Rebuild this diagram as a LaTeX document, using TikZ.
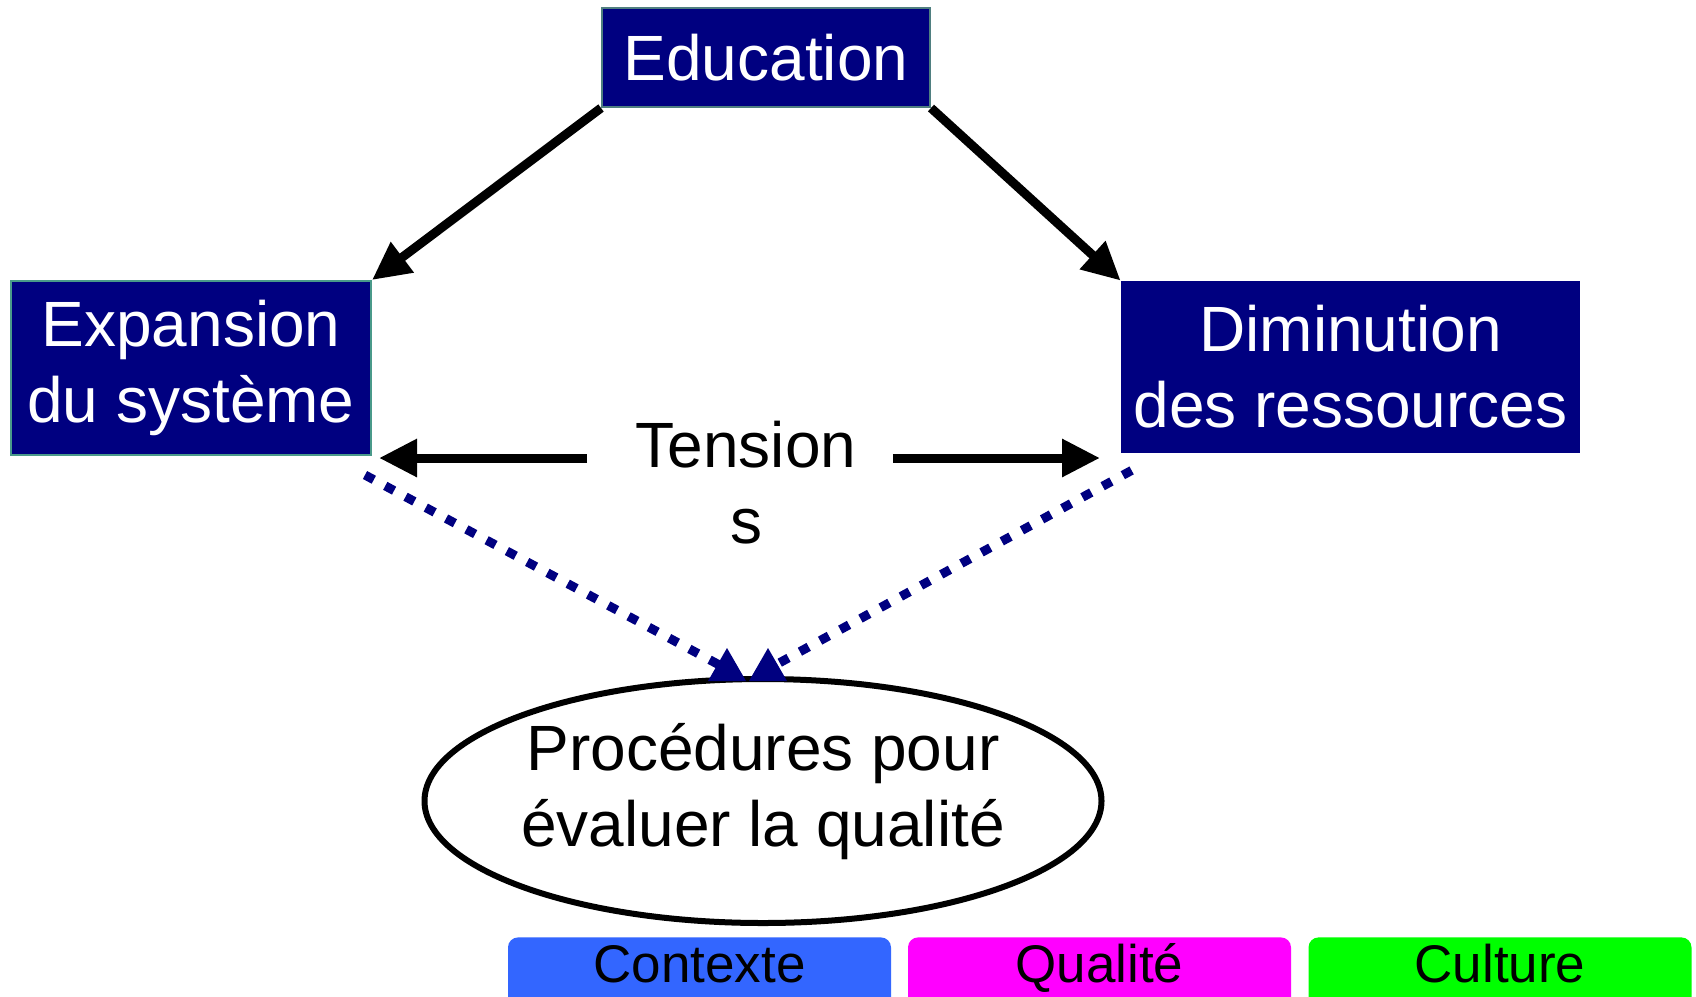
\documentclass[tikz,border=0pt]{standalone}
\usepackage{fontspec}
\setmainfont{Liberation Sans}
\usetikzlibrary{arrows.meta, positioning, shapes.geometric}

\definecolor{navy}{HTML}{000080}
\definecolor{eduline}{HTML}{4F7F80}
\definecolor{expline}{HTML}{4A9A8A}
\definecolor{ctxblue}{HTML}{3366FF}
\definecolor{qualpink}{HTML}{FF00FF}
\definecolor{culgreen}{HTML}{00FF00}
\newcommand{\fbig}{\fontsize{32}{38}\selectfont}
\newcommand{\fbtn}{\fontsize{26.5}{30}\selectfont}

\begin{document}
\begin{tikzpicture}[x=0.5pt, y=-0.5pt, >={Triangle[length=19pt, width=18pt]},
    box/.style  = {fill=navy, text=white, align=center, inner sep=0pt, font=\fbig},
    txt/.style  = {align=center, inner sep=0pt, font=\fbig},
    btn/.style  = {rounded corners=5pt, anchor=north, inner xsep=0pt, inner ysep=0pt,
                   minimum width=191.5pt, minimum height=40pt,
                   text height=22.5pt, text depth=17.5pt, font=\fbtn},
    dots/.style = {draw=navy, line width=4.5pt, dash pattern=on 5pt off 6.5pt}]
  \useasboundingbox (0,0) rectangle (1696,996);

  % Boxes
  \node[box, draw=eduline, line width=1pt, minimum width=164pt, minimum height=49.5pt]
        (edu) at (766,57.5) {Education};
  \node[box, draw=expline, line width=1pt, minimum width=180pt, minimum height=87pt]
        (exp) at (191,368) {Expansion\\du système};
  \node[box, minimum width=229.5pt, minimum height=86pt]
        (dim) at (1350.5,367) {Diminution\\des ressources};
  \node[txt, minimum width=152.5pt] (tens) at (746,483) {Tension\\s};

  % Ellipse
  \node[draw, ellipse, line width=3pt, minimum width=338.5pt, minimum height=122pt]
        (proc) at (763,801) {};
  \node[txt] (proctxt) at (763,792) {Procédures pour\\évaluer la qualité};

  % Free ends
  \coordinate (tl) at (379,458);
  \coordinate (tr) at (1100,458);
  \coordinate (al) at (725,668);
  \coordinate (ar) at (770,668);

  % Edges
  \path[->, line width=4.5pt]
            (edu.south west)         edge (exp.north east)
            (edu.south east)         edge (dim.north west)
            ([shift={(-6,-25)}]tens.west) edge (tl)
            ([shift={(-6,-25)}]tens.east) edge (tr);
  \path[dots] ([shift={(-7,19)}]exp.south east) edge (al)
              ([shift={(11,17)}]dim.south west) edge (ar);
  \foreach \x in {727,768}
    \fill[navy] (\x-19,681) -- (\x,648) -- (\x+19,681) -- cycle;

  % Legend
  \node[btn, fill=ctxblue]  (ctx)  at (699.5,937)  {Contexte};
  \node[btn, fill=qualpink] (qual) at (1099.5,937) {Qualité};
  \node[btn, fill=culgreen] (cul)  at (1500,937)   {Culture};
\end{tikzpicture}
\end{document}
